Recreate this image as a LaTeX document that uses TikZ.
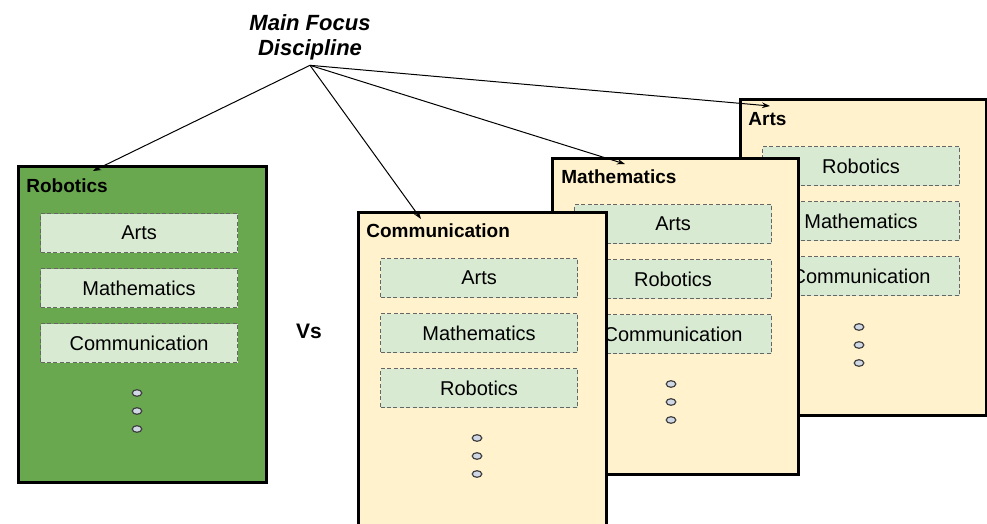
\documentclass[tikz,border=0pt]{standalone}
\usepackage{fontspec}
\setmainfont{Liberation Sans}
\usetikzlibrary{calc,arrows.meta,shapes.geometric}
\definecolor{panelgreen}{HTML}{6AA84F}
\definecolor{panelyellow}{HTML}{FFF2CC}
\definecolor{itemgreen}{HTML}{D9EAD3}
\definecolor{dotgrey}{HTML}{CFD8E4}

\begin{document}
\begin{tikzpicture}[x=0.5pt,y=-0.5pt,
    panel/.style={draw,line width=1.7pt,anchor=north west,inner sep=0pt,minimum width=124pt,minimum height=158pt},
    item/.style={draw=black!60,dash pattern=on 2pt off 1.2pt,line width=0.55pt,fill=itemgreen,anchor=north west,inner sep=0pt,minimum width=98.5pt,minimum height=19.5pt,font=\fontsize{10}{12}\selectfont},
    head/.style={anchor=base west,inner sep=0pt,font=\bfseries\fontsize{9.5}{11}\selectfont},
    dot/.style={ellipse,draw=black!75,fill=dotgrey,line width=0.6pt,inner sep=0pt,minimum width=4.8pt,minimum height=3.3pt},
    pointer/.style={-{Stealth[length=4pt,width=2.8pt]},line width=0.5pt}]
    \clip (0,0) rectangle (987,524);
    %robotics
    \node [panel,fill=panelgreen] (rob) at (17,165) {};
    \node [head] (robhead) at ($(rob.north west)+(9,28)$) {Robotics};
    \foreach \txt [count=\i] in {Arts,Mathematics,Communication}
        \node [item] (rob\i) at ($(rob.north west)+(23,-7+55*\i)$) {\txt};
    \foreach \i in {0,1,2}
        \node [dot] (robdot\i) at ($(rob.north west)+(120,228+18*\i)$) {};
    %arts
    \node [panel,fill=panelyellow,minimum width=123pt] (art) at (739,98) {};
    \node [head] (arthead) at ($(art.north west)+(9,28)$) {Arts};
    \foreach \txt [count=\i] in {Robotics,Mathematics,Communication}
        \node [item] (art\i) at ($(art.north west)+(23,-7+55*\i)$) {\txt};
    \foreach \i in {0,1,2}
        \node [dot] (artdot\i) at ($(art.north west)+(120,229+18*\i)$) {};
    %mathematics
    \node [panel,fill=panelyellow,minimum width=123pt] (mat) at (551,157) {};
    \node [head] (mathead) at ($(mat.north west)+(10,27)$) {Mathematics};
    \foreach \txt [count=\i] in {Arts,Robotics,Communication}
        \node [item] (mat\i) at ($(mat.north west)+(23,-8+55*\i)$) {\txt};
    \foreach \i in {0,1,2}
        \node [dot] (matdot\i) at ($(mat.north west)+(120,227+18*\i)$) {};
    %communication
    \node [panel,fill=panelyellow] (com) at (357,211) {};
    \node [head] (comhead) at ($(com.north west)+(9,27)$) {Communication};
    \foreach \txt [count=\i] in {Arts,Mathematics,Robotics}
        \node [item] (com\i) at ($(com.north west)+(23,-8+55*\i)$) {\txt};
    \foreach \i in {0,1,2}
        \node [dot] (comdot\i) at ($(com.north west)+(120,227+18*\i)$) {};
    %vs
    \node [font=\bfseries\fontsize{10.5}{12}\selectfont] (vs) at (309,331) {Vs};
    %main focus
    \node [align=center,anchor=north,inner sep=0pt,font=\bfseries\itshape\fontsize{11}{12.5}\selectfont]
          (focus) at (310,14) {Main Focus\\Discipline};
    \coordinate (apex) at ([yshift=-2.5pt]focus.south);
    \coordinate (robtip) at ($(rob.north west)+(76,6)$);
    \coordinate (comtip) at ($(com.north west)+(64,8)$);
    \coordinate (mattip) at ($(mat.north west)+(74,7)$);
    \coordinate (arttip) at ($(art.north west)+(31,8)$);
    \foreach \t in {robtip,comtip,mattip,arttip}
        \draw [pointer] (apex) -- (\t);
\end{tikzpicture}
\end{document}
